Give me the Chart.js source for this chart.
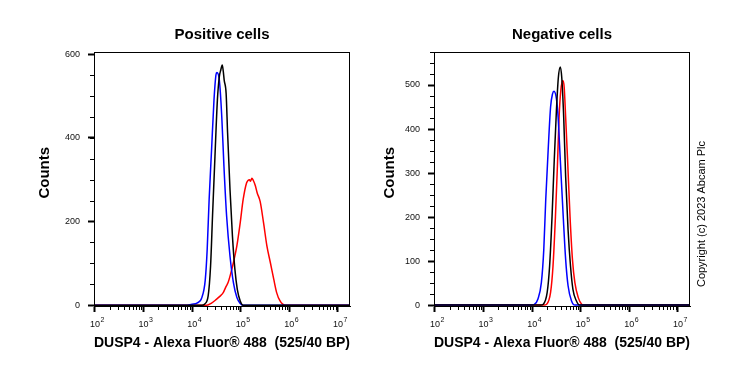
<!DOCTYPE html>
<html>
<head>
<meta charset="utf-8">
<script src="https://cdn.jsdelivr.net/npm/chart.js@4.4.1/dist/chart.umd.min.js"></script>
<style>
  body { margin: 0; background: #fff; }
  #wrap { position: relative; width: 739px; height: 370px; }
  canvas { position: absolute; top: 0; }
  #posChart { left: 0; }
  #negChart { left: 370px; }
</style>
</head>
<body>
<div id="wrap">
  <canvas id="posChart" width="370" height="370"></canvas>
  <canvas id="negChart" width="369" height="370"></canvas>
</div>
<script>
// x tick positions (log scale) and their labels: base with a raised exponent
const xMajorTicks = [1e2, 1e3, 1e4, 1e5, 1e6, 1e7];
const xTickBase = '10';
const xTickExp = ['2', '3', '4', '5', '6', '7'];

// y ticks for each panel
const posYTicks = [0, 200, 400, 600];
const negYTicks = [0, 100, 200, 300, 400, 500];

// Positive cells - fluorescence read as powers of ten, counts
const posBlackExp = [2, 4.2, 4.26, 4.33, 4.38, 4.42, 4.47, 4.52, 4.56, 4.59, 4.62, 4.64, 4.66, 4.70, 4.73, 4.78, 4.83, 4.88, 4.93, 4.99, 5.05, 7.25];
const posBlack    = [0, 0, 3, 22, 94, 213, 355, 490, 546, 562, 574, 560, 538, 506, 412, 276, 165, 86, 38, 10, 0, 0];

const posBlueExp = [2, 3.9, 4.0, 4.1, 4.2, 4.27, 4.31, 4.35, 4.40, 4.45, 4.49, 4.51, 4.56, 4.61, 4.655, 4.71, 4.78, 4.85, 4.92, 4.99, 5.05, 7.25];
const posBlue    = [0, 0, 2, 5, 18, 60, 133, 252, 371, 490, 550, 556, 538, 451, 332, 213, 117, 54, 19, 4, 0, 0];

const posRedExp = [2, 4.3, 4.40, 4.50, 4.57, 4.64, 4.70, 4.74, 4.80, 4.85, 4.92, 4.99, 5.05, 5.12, 5.15, 5.18, 5.20, 5.23, 5.26, 5.30, 5.34, 5.40, 5.47, 5.54, 5.61, 5.68, 5.74, 5.81, 5.91, 7.25];
const posRed    = [0, 0, 5, 14, 21, 30, 45, 54, 78, 102, 141, 197, 252, 292, 298, 300, 296, 303, 298, 286, 268, 248, 197, 141, 102, 62, 30, 10, 0, 0];

// Negative cells
const negBlackExp = [2, 4.18, 4.23, 4.31, 4.36, 4.41, 4.45, 4.50, 4.54, 4.58, 4.61, 4.65, 4.69, 4.74, 4.79, 4.84, 4.91, 4.98, 7.25];
const negBlack    = [0, 0, 2, 29, 89, 201, 314, 442, 517, 541, 517, 427, 292, 171, 89, 36, 10, 0, 0];

const negBlueExp = [2, 3.98, 4.05, 4.12, 4.19, 4.24, 4.28, 4.33, 4.38, 4.42, 4.45, 4.50, 4.535, 4.58, 4.64, 4.69, 4.74, 4.81, 4.88, 7.25];
const negBlue    = [0, 0, 2, 14, 51, 126, 239, 352, 450, 480, 486, 469, 427, 330, 202, 104, 44, 10, 0, 0];

const negRedExp = [2, 4.25, 4.30, 4.38, 4.43, 4.48, 4.52, 4.555, 4.59, 4.63, 4.66, 4.69, 4.73, 4.78, 4.83, 4.88, 4.95, 5.02, 5.08, 7.25];
const negRed    = [0, 0, 2, 29, 89, 201, 314, 427, 487, 510, 495, 427, 330, 202, 104, 51, 17, 2, 0, 0];

const FONT = '"Liberation Sans", Arial, "DejaVu Sans", sans-serif';
const xTitle = 'DUSP4 - Alexa Fluor® 488  (525/40 BP)';

function pts(exps, counts) {
  return exps.map((e, i) => ({ x: Math.pow(10, e), y: counts[i] }));
}

function minorValues(step, max) {
  const out = [];
  for (let v = step; v <= max; v += step) out.push(v);
  return out;
}
const xMinor = [];
for (let d = 2; d < 7; d++) for (let m = 2; m <= 9; m++) xMinor.push(m * Math.pow(10, d));

// frame around the plot, short minor ticks, x labels with exponents, copyright note
const framePlugin = {
  id: 'frame',
  afterDraw(chart, args, opts) {
    const { ctx, chartArea: a, scales } = chart;
    ctx.save();
    ctx.strokeStyle = '#000';
    ctx.lineWidth = 1;
    ctx.strokeRect(a.left + 0.5, a.top + 0.5, a.right - a.left - 1, a.bottom - a.top);
    ctx.beginPath();
    xMinor.forEach(v => {
      const px = Math.round(scales.x.getPixelForValue(v)) + 0.5;
      ctx.moveTo(px, a.bottom);
      ctx.lineTo(px, a.bottom + 4);
    });
    opts.yMinor.forEach(v => {
      const py = Math.round(scales.y.getPixelForValue(v)) + 0.5;
      ctx.moveTo(a.left, py);
      ctx.lineTo(a.left - 4, py);
    });
    ctx.stroke();

    ctx.fillStyle = '#111';
    ctx.textBaseline = 'alphabetic';
    ctx.textAlign = 'left';
    scales.x.ticks.forEach((t, i) => {
      const px = scales.x.getPixelForTick(i);
      ctx.font = '9px ' + FONT;
      const w1 = ctx.measureText(xTickBase).width;
      ctx.font = '7px ' + FONT;
      const w2 = ctx.measureText(xTickExp[i]).width;
      const x0 = px - (w1 + w2) / 2 + 2;
      ctx.font = '9px ' + FONT;
      ctx.fillText(xTickBase, x0, a.bottom + 21);
      ctx.font = '7px ' + FONT;
      ctx.fillText(xTickExp[i], x0 + w1 + 0.5, a.bottom + 16);
    });

    if (opts.note) {
      ctx.translate(opts.noteX, opts.noteY);
      ctx.rotate(-Math.PI / 2);
      ctx.font = '11px ' + FONT;
      ctx.fillStyle = '#000';
      ctx.textAlign = 'center';
      ctx.textBaseline = 'middle';
      ctx.fillText(opts.note, 0, 0);
    }
    ctx.restore();
  }
};

function makeChart(id, title, sets, yTicks, yMax, yMinor, yTitlePad, yWidth, rightPad, note) {
  const colors = ['#000000', '#0000ff', '#ff0000'];
  return new Chart(document.getElementById(id), {
    type: 'line',
    data: {
      datasets: sets.map((d, i) => ({
        data: d,
        borderColor: colors[i],
        borderWidth: 1.5,
        pointRadius: 0,
        cubicInterpolationMode: 'monotone',
        fill: false
      }))
    },
    options: {
      responsive: false,
      animation: false,
      layout: { padding: { left: 0, right: rightPad, top: 0, bottom: 0 } },
      plugins: {
        legend: { display: false },
        tooltip: { enabled: false },
        title: {
          display: true,
          text: title,
          fullSize: false,
          color: '#000',
          font: { family: FONT, size: 15, weight: 'bold', lineHeight: 1.2 },
          padding: { top: 26, bottom: 8 }
        },
        frame: { yMinor: yMinor, note: note, noteX: 332, noteY: 214 }
      },
      scales: {
        x: {
          type: 'logarithmic',
          min: Math.pow(10, 1.98),
          max: Math.pow(10, 7.25),
          afterBuildTicks: ax => { ax.ticks = xMajorTicks.map(v => ({ value: v })); },
          afterFit: ax => { ax.height = 64; },
          ticks: { display: false, autoSkip: false, maxRotation: 0 },
          grid: { drawOnChartArea: false, drawTicks: true, tickLength: 6, tickColor: '#000', tickWidth: 2 },
          border: { display: true, color: '#000', width: 1 },
          title: {
            display: true, text: xTitle, color: '#000',
            font: { family: FONT, size: 15.5, weight: 'bold', lineHeight: 1.2 },
            padding: { top: 0, bottom: 18 }
          }
        },
        y: {
          min: -2,
          max: yMax,
          afterBuildTicks: ax => { ax.ticks = yTicks.map(v => ({ value: v })); },
          afterFit: ax => { ax.width = yWidth; },
          ticks: {
            padding: 8, color: '#111', font: { family: FONT, size: 9 },
            callback: v => String(v)
          },
          grid: { drawOnChartArea: false, drawTicks: true, tickLength: 6, tickColor: '#000', tickWidth: 2 },
          border: { display: true, color: '#000', width: 1 },
          title: {
            display: true, text: '   Counts', color: '#000',
            font: { family: FONT, size: 15, weight: 'bold', lineHeight: 1.2 },
            padding: { top: yTitlePad, bottom: 0 }
          }
        }
      }
    },
    plugins: [framePlugin]
  });
}

makeChart('posChart', 'Positive cells',
  [pts(posBlackExp, posBlack), pts(posBlueExp, posBlue), pts(posRedExp, posRed)],
  posYTicks, 605, minorValues(50, 600), 36, 94, 20, null);

makeChart('negChart', 'Negative cells',
  [pts(negBlackExp, negBlack), pts(negBlueExp, negBlue), pts(negRedExp, negRed)],
  negYTicks, 575, minorValues(25, 575), 11, 64, 49, 'Copyright (c) 2023 Abcam Plc');
</script>
</body>
</html>
